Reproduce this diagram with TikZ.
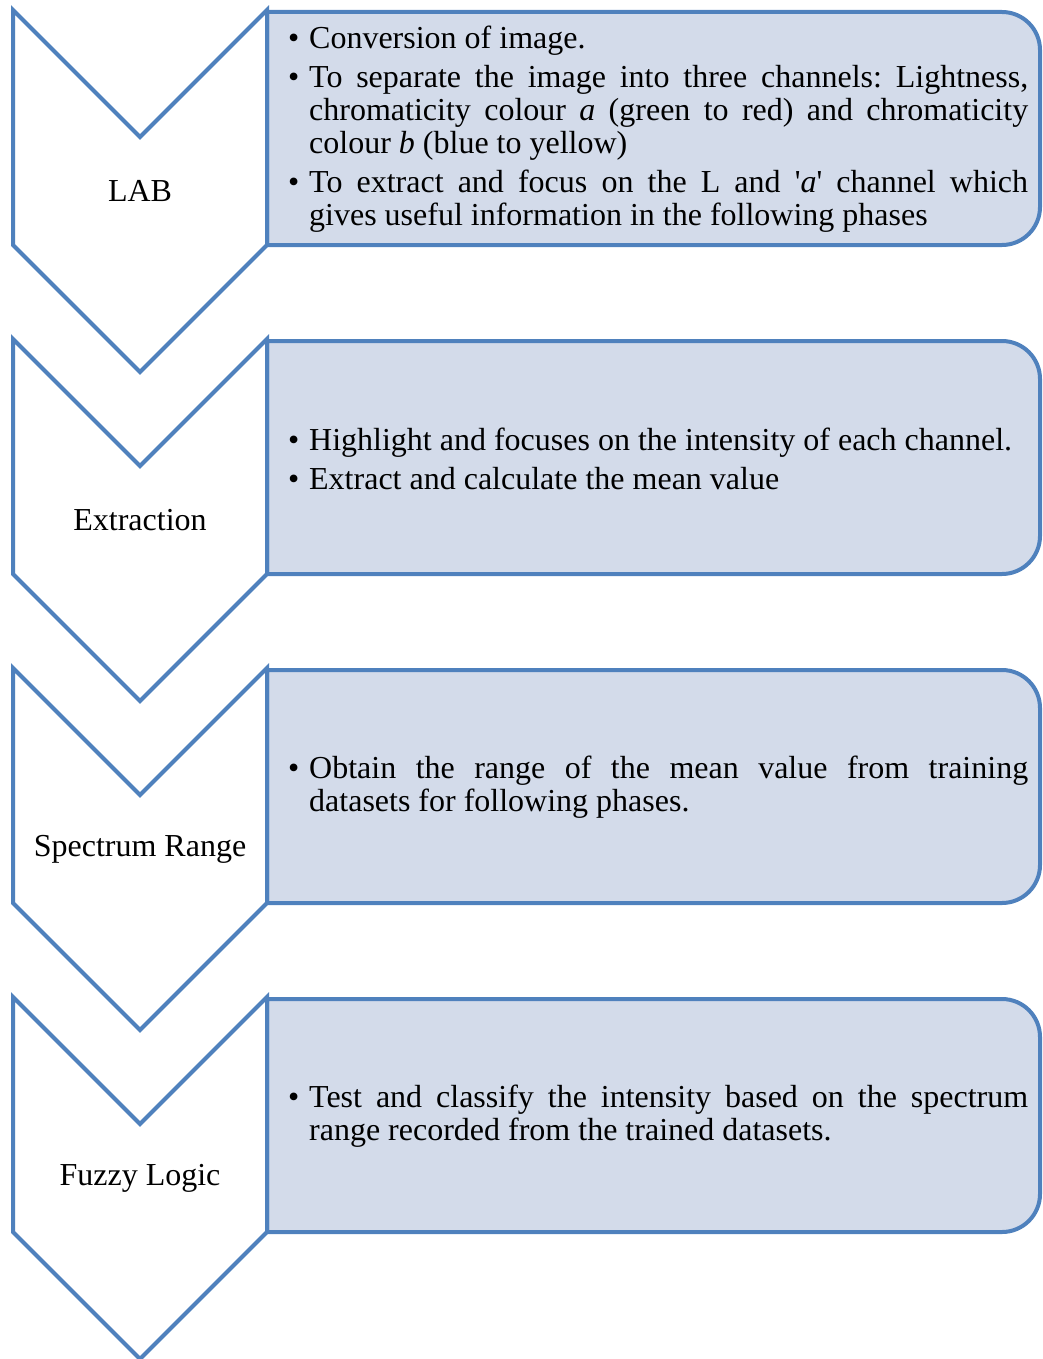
\documentclass[tikz,border=0pt]{standalone}
\usepackage{fontspec}
\setmainfont{Liberation Serif}
\definecolor{edgeblue}{RGB}{79,129,189}
\definecolor{panelfill}{RGB}{211,219,234}
\newcommand{\textsz}{\fontsize{32}{33}\selectfont}
\tikzset{
  chev/.style={draw=edgeblue, line width=4pt, fill=white, line join=miter},
  panel/.style={draw=edgeblue, line width=4pt, fill=panelfill, line join=miter},
  stagelabel/.style={font=\textsz, inner sep=0pt},
  panelbody/.style={font=\textsz, inner sep=0pt, anchor=west}
}
% one bulleted paragraph with a hanging indent
\newcommand{\bulletpar}[1]{\par\noindent\hangindent=21pt\hangafter=1\makebox[21pt][l]{\textbullet}#1\par}
\newcommand{\panelbox}[1]{\begin{minipage}{740pt}\frenchspacing\setlength{\parskip}{6pt}\textsz #1\end{minipage}}
% chevron: #1 = vertical offset, #2 = node name, #3 = label
\newcommand{\stage}[3]{%
  \draw[chev] (13,10+#1) -- (140,137+#1) -- (267,10+#1) -- (267,245+#1)
    -- (140,372+#1) -- (13,245+#1) -- cycle;
  \node[stagelabel] (#2) at (140,191+#1) {#3};
}
% panel with rounded right corners (y axis points down): #1 = offset, #2 = name, #3 = body
\newcommand{\panel}[3]{%
  \draw[panel] (267,245+#1) -- (267,12+#1) -- (1002,12+#1)
    arc[start angle=-90, end angle=0, radius=38] -- (1040,207+#1)
    arc[start angle=0, end angle=90, radius=38] -- cycle;
  \node[panelbody] (#2) at (288,129.5+#1) {\panelbox{#3}};
}
\begin{document}
\begin{tikzpicture}[x=1pt, y=-1pt]
\useasboundingbox (0,0) rectangle (1042,1359);

\panel{0}{info1}{%
  \bulletpar{Conversion of image.}
  \bulletpar{To separate the image into three channels: Lightness,\linebreak
    chromaticity colour \textit{a} (green to red) and chromaticity\linebreak
    colour \textit{b} (blue to yellow)}
  \bulletpar{To extract and focus on the L and \textquotesingle\textit{a}\textquotesingle{} channel which\linebreak
    gives useful information in the following phases}}
\stage{0}{lab}{LAB}

\panel{329}{info2}{%
  \bulletpar{Highlight and focuses on the intensity of each channel.}
  \bulletpar{Extract and calculate the mean value}}
\stage{329}{extraction}{Extraction}

\panel{658}{info3}{%
  \bulletpar{Obtain the range of the mean value from training\linebreak
    datasets for following phases.}}
\stage{658}{spectrum}{Spectrum Range}

\panel{987}{info4}{%
  \bulletpar{Test and classify the intensity based on the spectrum\linebreak
    range recorded from the trained datasets.}}
\stage{987}{fuzzy}{Fuzzy Logic}
\end{tikzpicture}
\end{document}
